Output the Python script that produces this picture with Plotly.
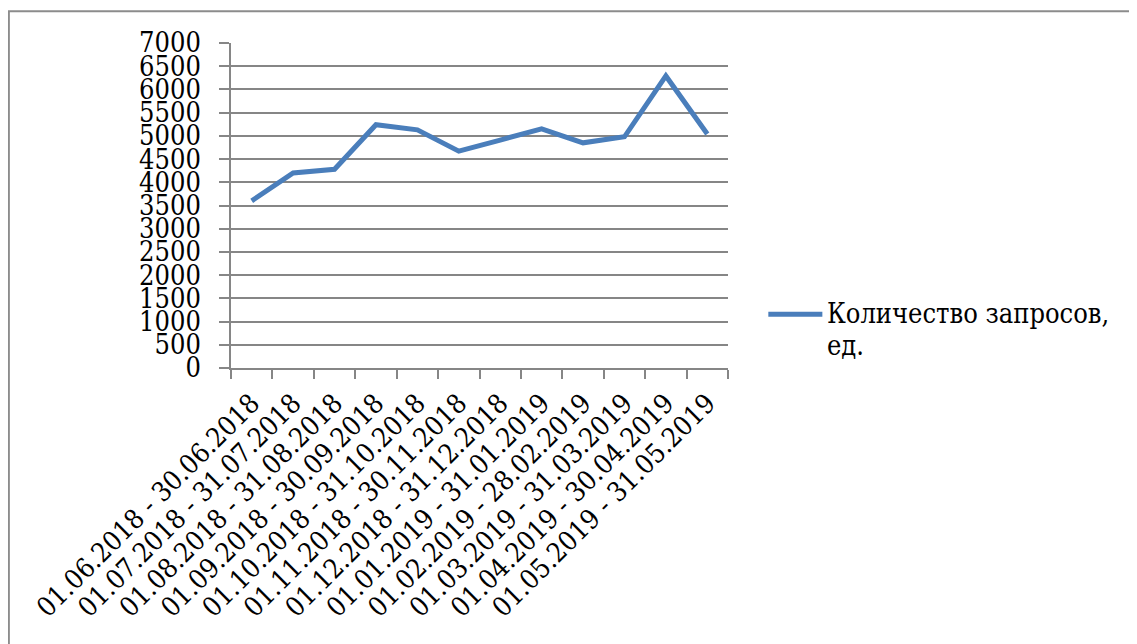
import plotly.graph_objects as go

periods = [
    "01.06.2018 - 30.06.2018",
    "01.07.2018 - 31.07.2018",
    "01.08.2018 - 31.08.2018",
    "01.09.2018 - 30.09.2018",
    "01.10.2018 - 31.10.2018",
    "01.11.2018 - 30.11.2018",
    "01.12.2018 - 31.12.2018",
    "01.01.2019 - 31.01.2019",
    "01.02.2019 - 28.02.2019",
    "01.03.2019 - 31.03.2019",
    "01.04.2019 - 30.04.2019",
    "01.05.2019 - 31.05.2019",
]
requests = [3600, 4200, 4280, 5240, 5130, 4670, 4910, 5150, 4850, 4980, 6290, 5040]
legend_lines = ["Количество запросов,", "ед."]

# page body has an 8px margin, so pixel positions below are shifted by it
OFF = 8
W, H = 1137, 644
L, R, T, B = 231 - OFF, 727.7 - OFF, 42.7 - OFF, 367.7 - OFF
FONT = "DejaVu Serif Condensed, DejaVu Serif"
FS = 27
BLUE = "#4a7ebb"
GRID = "#868686"


def px_x(p):
    return (p - OFF - L) / (R - L)


def px_y(p):
    return (B - (p - OFF)) / (B - T)


fig = go.Figure()
fig.add_trace(go.Scatter(
    x=periods, y=requests, mode="lines",
    line=dict(color=BLUE, width=5),
    showlegend=False,
))

fig.update_layout(
    width=W, height=H,
    margin=dict(l=L, r=W - R, t=T, b=H - B, pad=0),
    paper_bgcolor="white",
    plot_bgcolor="white",
    font=dict(family=FONT, size=FS, color="black"),
    shapes=[
        # outer chart border (only top/left visible)
        dict(type="rect", xref="paper", yref="paper",
             x0=px_x(9), x1=px_x(1160), y0=px_y(700), y1=px_y(11),
             line=dict(color="#8c8c8c", width=2), layer="below"),
        # legend key
        dict(type="line", xref="paper", yref="paper",
             x0=px_x(768), x1=px_x(822), y0=px_y(314), y1=px_y(314),
             line=dict(color=BLUE, width=5)),
    ],
    annotations=[
        dict(text=legend_lines[0], xref="paper", yref="paper",
             x=px_x(825), y=px_y(313), xanchor="left", yanchor="middle",
             showarrow=False, font=dict(family=FONT, size=FS)),
        dict(text=legend_lines[1], xref="paper", yref="paper",
             x=px_x(825), y=px_y(345), xanchor="left", yanchor="middle",
             showarrow=False, font=dict(family=FONT, size=FS)),
    ],
)

fig.update_yaxes(
    range=[0, 7000], dtick=500,
    automargin=False,
    showgrid=True, gridcolor=GRID, gridwidth=1.5,
    zeroline=False,
    showline=True, linecolor=GRID, linewidth=1.5,
    ticks="outside", ticklen=10, tickcolor=GRID, tickwidth=1.5,
    ticklabelstandoff=13,
    tickfont=dict(family=FONT, size=FS),
)
fig.update_xaxes(
    type="category",
    range=[-0.5, len(periods) - 0.5],
    automargin=False,
    showgrid=False, zeroline=False,
    showline=True, linecolor=GRID, linewidth=1.5,
    ticks="outside", ticklen=9, tickcolor=GRID, tickwidth=1.5,
    tickson="boundaries",
    tickangle=-45,
    ticklabelstandoff=7,
    tickfont=dict(family=FONT, size=FS),
)

fig.write_html("out.html")
